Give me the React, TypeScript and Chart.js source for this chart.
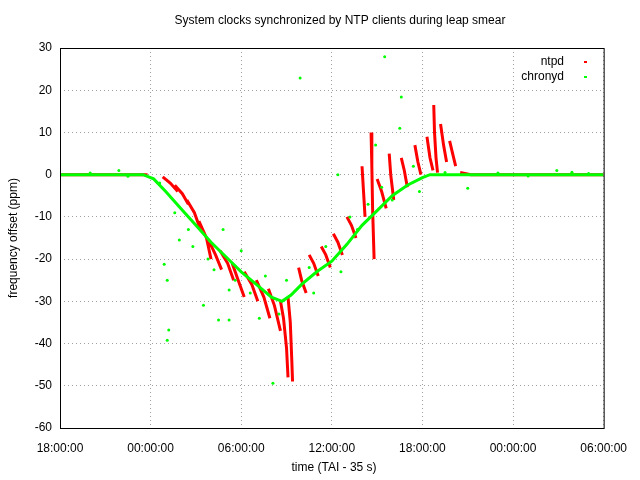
import { useEffect, useRef } from "react"
import { Chart, registerables } from "chart.js"

Chart.register(...registerables)

// x = hours since 18:00:00 (TAI - 35 s), y = frequency offset (ppm)
const xTicks = [0, 6, 12, 18, 24, 30, 36]
const yTicks = [30, 20, 10, 0, -10, -20, -30, -40, -50, -60]

// chronyd main trend
const chronydTrend = [
  [0, 0], [5.5, 0], [6.2, -1], [7, -4], [8, -8], [9, -12], [10, -16], [11, -19.5],
  [12, -23], [13, -26], [14, -29], [14.7, -30], [15.3, -28.5], [16, -26], [17, -23],
  [18, -20.5], [19, -16.5], [20, -12], [21, -8.5], [22, -5], [23, -2.5], [24, -0.7],
  [24.5, 0], [36, 0],
]

// chronyd scattered samples
const chronydScatter = [
  [15.9, 22.9], [21.5, 27.9], [22.6, 18.4], [22.5, 11], [20.9, 7], [6.9, -21.2],
  [7.1, -25], [7.2, -36.8], [7.1, -39.2], [9.5, -30.9], [10.5, -34.4], [11.2, -34.4],
  [14.1, -49.4], [18.4, 0], [27, -3.2], [3.9, 1], [32.9, 1], [33.9, 0.6], [7.9, -15.5],
  [11.2, -27.3], [13.2, -34], [19.7, -13], [22, -6], [8.5, -13], [9.8, -20], [12.6, -28],
  [13.6, -24], [14.5, -33], [16.5, -22], [17.6, -17], [18.6, -23], [20.4, -7], [21.3, -3],
  [23.4, 2], [23.8, -4], [10.8, -13], [12, -18], [15, -25], [16.8, -28], [19.2, -10],
  [6.6, -2], [7.6, -9], [8.8, -17], [10.2, -22.5], [11.6, -25], [25.5, 0.5], [29, 0.4],
  [2, 0.4], [4.5, -0.4], [31, -0.3], [35, 0.3],
]

// ntpd segments (null separates the arcs)
const ntpdSegments: (number[] | null)[] = [
  [0, 0], [5.8, 0], null,
  [6.8, -0.5], [7.3, -2], [7.8, -4], null,
  [7.6, -2.5], [8.1, -4.5], [8.5, -7], null,
  [8.4, -6], [8.9, -9], [9.3, -13], null,
  [9.2, -11], [9.7, -15], [10.0, -20], null,
  [9.9, -16], [10.3, -19], [10.7, -22.5], null,
  [10.6, -18], [11.1, -21], [11.5, -25], null,
  [11.4, -21], [11.8, -25], [12.2, -29], null,
  [12.2, -23], [12.7, -26], [13.1, -30], null,
  [13.0, -25], [13.5, -29], [13.9, -34], null,
  [13.8, -27], [14.2, -31], [14.6, -37], null,
  [14.6, -30], [14.8, -34], [15.0, -41], [15.1, -48], null,
  [15.1, -29], [15.25, -35], [15.35, -44], [15.4, -49], null,
  [15.8, -22], [16.0, -25], [16.3, -28], null,
  [16.5, -19], [16.8, -21], [17.1, -24], null,
  [17.3, -17], [17.6, -19], [17.9, -22], null,
  [18.1, -14], [18.4, -16], [18.7, -19], null,
  [19.0, -10], [19.3, -12], [19.6, -15], null,
  [20.0, 2], [20.1, -4], [20.2, -10], null,
  [20.6, 10], [20.65, 2], [20.7, -8], [20.8, -20], null,
  [21.0, -1], [21.3, -4], [21.6, -8], null,
  [21.8, 5], [21.9, 0], [22.1, -6], null,
  [22.6, 4], [22.8, 1], [23.0, -3], null,
  [23.5, 7], [23.7, 3], [23.9, 0], null,
  [24.3, 9], [24.5, 4], [24.7, 1], null,
  [24.75, 16.5], [24.8, 10], [24.9, 4], [25.0, 0.5], null,
  [25.2, 12], [25.4, 7], [25.6, 3], null,
  [25.8, 8], [26.0, 5], [26.2, 2], null,
  [26.5, 0.5], [27.2, 0], [36, 0],
]

const toPts = (arr: (number[] | null)[]) =>
  arr.map((p) => (p ? { x: p[0], y: p[1] } : { x: NaN, y: null }))

const fmtTime = (h: number) => {
  const hh = (18 + h) % 24
  return (hh < 10 ? "0" : "") + hh + ":00:00"
}

const FONT = "Liberation Sans, Arial, sans-serif"

const overlay = {
  id: "overlay",
  afterDraw(chart: Chart) {
    const { ctx, chartArea: a } = chart
    ctx.save()
    ctx.strokeStyle = "#000"
    ctx.lineWidth = 1
    ctx.strokeRect(a.left + 0.5, a.top + 0.5, a.right - a.left, a.bottom - a.top)
    ctx.fillStyle = "#000"
    ctx.font = "12px " + FONT
    ctx.textAlign = "center"
    ctx.textBaseline = "middle"
    ctx.fillText("System clocks synchronized by NTP clients during leap smear", 340, 21)
    ctx.fillText("time (TAI - 35 s)", 334, 468)
    ctx.save()
    ctx.translate(14, 238)
    ctx.rotate(-Math.PI / 2)
    ctx.fillText("frequency offset (ppm)", 0, 0)
    ctx.restore()
    // legend
    ctx.textAlign = "right"
    ctx.fillText("ntpd", 564, 62)
    ctx.fillText("chronyd", 564, 77)
    ctx.fillStyle = "#ff0000"
    ctx.fillRect(584, 61, 3, 2)
    ctx.fillStyle = "#00ff00"
    ctx.fillRect(584, 76, 3, 2)
    ctx.restore()
  },
}

export default function App() {
  const ref = useRef<HTMLCanvasElement>(null)

  useEffect(() => {
    if (!ref.current) return
    document.body.style.margin = "0"
    const chart = new Chart(ref.current, {
      type: "line",
      data: {
        datasets: [
          {
            data: toPts(chronydTrend),
            borderColor: "#00ff00",
            borderWidth: 3,
            pointRadius: 0,
            order: 0,
          },
          {
            data: toPts(chronydScatter),
            showLine: false,
            pointRadius: 1.5,
            pointBorderWidth: 0,
            pointBackgroundColor: "#00ff00",
            order: 0,
          },
          {
            data: toPts(ntpdSegments),
            borderColor: "#ff0000",
            borderWidth: 3,
            pointRadius: 0,
            spanGaps: false,
            order: 1,
          },
        ],
      },
      options: {
        responsive: false,
        animation: false,
        parsing: false as any,
        layout: { padding: { top: 48, right: 33, left: 0, bottom: 0 } },
        plugins: { legend: { display: false }, tooltip: { enabled: false } },
        scales: {
          x: {
            type: "linear",
            min: 0,
            max: 36,
            afterFit: (s: any) => { s.height = 52 },
            afterBuildTicks: (s: any) => { s.ticks = xTicks.map((v) => ({ value: v })) },
            grid: { color: "#a0a0a0", borderDash: [1, 3] as any, drawTicks: false } as any,
            border: { display: false, dash: [1, 3] },
            ticks: { color: "#000", font: { size: 12, family: FONT }, padding: 13, maxRotation: 0, callback: (v: any) => fmtTime(Number(v)) },
          },
          y: {
            min: -60,
            max: 30,
            afterFit: (s: any) => { s.width = 60 },
            afterBuildTicks: (s: any) => { s.ticks = yTicks.map((v) => ({ value: v })) },
            grid: { color: "#a0a0a0", drawTicks: false },
            border: { display: false, dash: [1, 3] },
            ticks: { color: "#000", font: { size: 12, family: FONT }, padding: 8 },
          },
        },
      },
      plugins: [overlay],
    })
    return () => chart.destroy()
  }, [])

  return <canvas ref={ref} width={640} height={480} style={{ display: "block" }} />
}
